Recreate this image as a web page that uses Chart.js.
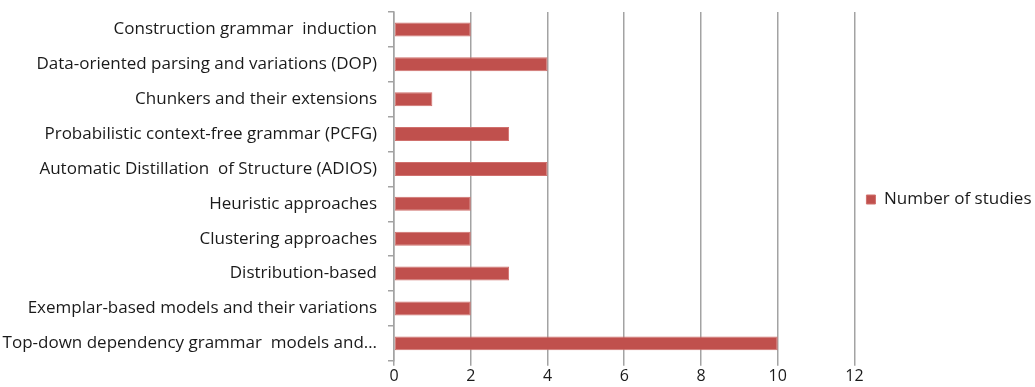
<!DOCTYPE html>
<html>
<head>
<meta charset="utf-8">
<script src="https://cdn.jsdelivr.net/npm/chart.js@4.4.1/dist/chart.umd.min.js"></script>
<style>
  html, body { margin: 0; padding: 0; background: #ffffff; }
  #wrap { width: 1035px; height: 387px; position: relative; }
</style>
</head>
<body>
<div id="wrap"><canvas id="chart" width="1035" height="387"></canvas></div>
<script>
// Study approaches (top to bottom) and number of studies for each
const categories = [
  "Construction grammar  induction",
  "Data-oriented parsing and variations (DOP)",
  "Chunkers and their extensions",
  "Probabilistic context-free grammar (PCFG)",
  "Automatic Distillation  of Structure (ADIOS)",
  "Heuristic approaches",
  "Clustering approaches",
  "Distribution-based",
  "Exemplar-based models and their variations",
  "Top-down dependency grammar  models and\u2026"
];
const studyCounts = [2, 4, 1, 3, 4, 2, 2, 3, 2, 10];
const seriesName = "Number of studies";
const xTicks = [0, 2, 4, 6, 8, 10, 12];

const FONT = "'Open Sans', 'Noto Sans', sans-serif";
const TEXT = "#1a1a1a";
const GRID = "#a3a3a3";

new Chart(document.getElementById("chart"), {
  type: "bar",
  data: {
    labels: categories,
    datasets: [{
      label: seriesName,
      data: studyCounts,
      backgroundColor: "#c0504d",
      borderColor: "#d0706d",
      borderWidth: 1,
      borderSkipped: false,
      barPercentage: 0.4,
      categoryPercentage: 1.0
    }]
  },
  options: {
    indexAxis: "y",
    responsive: false,
    animation: false,
    // the legend's trailing blank space may run past the right edge
    layout: { padding: { top: 12, right: -6.5, left: 0, bottom: 0 } },
    plugins: {
      tooltip: { enabled: false },
      legend: {
        position: "right",
        labels: {
          boxWidth: 9,
          boxHeight: 9,
          padding: 12,
          color: TEXT,
          font: { family: FONT, size: 17 }
        }
      }
    },
    scales: {
      x: {
        min: xTicks[0],
        max: xTicks[xTicks.length - 1],
        afterBuildTicks: (scale) => { scale.ticks = xTicks.map(v => ({ value: v })); },
        border: { display: false },
        grid: { color: GRID, lineWidth: 1.5, tickLength: 5, drawTicks: true },
        ticks: { color: TEXT, font: { family: FONT, size: 16 }, padding: 1, maxRotation: 0 }
      },
      y: {
        afterFit: (scale) => {
          scale.width = 394;
          scale.paddingTop = 0;
          scale.paddingBottom = 0;
        },
        border: { display: true, color: GRID, width: 1.5 },
        grid: { drawOnChartArea: false, color: GRID, lineWidth: 1.5, tickLength: 6 },
        ticks: { color: TEXT, font: { family: FONT, size: 17 }, padding: 11, autoSkip: false }
      }
    }
  }
});
</script>
</body>
</html>
